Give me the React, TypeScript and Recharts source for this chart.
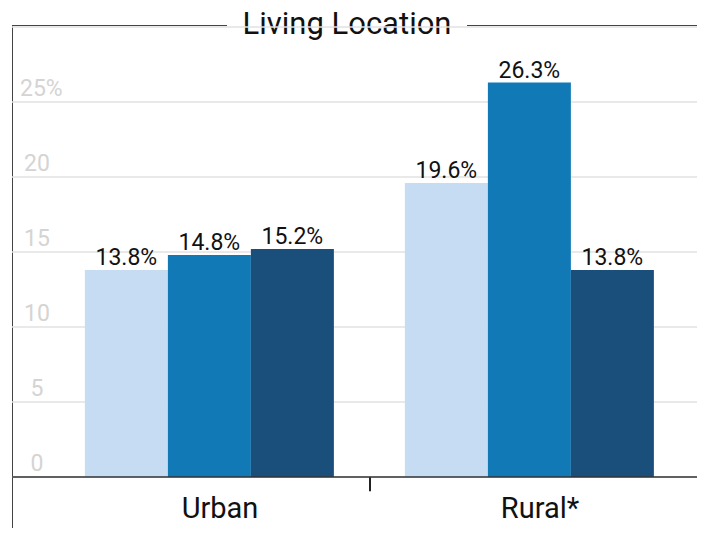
import React from 'react';
import {
  BarChart,
  Bar,
  XAxis,
  YAxis,
  CartesianGrid,
  LabelList,
  ReferenceLine
} from 'recharts';

const categories = ['Urban', 'Rural*'];
const seriesA = [13.8, 19.6];
const seriesB = [14.8, 26.3];
const seriesC = [15.2, 13.8];
const yTicks = [0, 5, 10, 15, 20, 25];

const colors = ['#c6dcf2', '#1079b6', '#1a4f7b'];

const data = categories.map((name, i) => ({
  name,
  a: seriesA[i],
  b: seriesB[i],
  c: seriesC[i]
}));

const YTick = ({ y, payload }: any) => {
  const top = payload.value === yTicks[yTicks.length - 1];
  return (
    <text x={top ? 20 : 37} y={y - 6} textAnchor={top ? 'start' : 'middle'} fontSize={23} fill="#d4d4d4">
      {top ? `${payload.value}%` : payload.value}
    </text>
  );
};

const XTick = ({ x, y, payload }: any) => (
  <text x={x + 10} y={y + 33} textAnchor="middle" fontSize={29} fill="#111">
    {payload.value}
  </text>
);

const pct = (v: number) => `${v}%`;

const App: React.FC = () => {
  return (
    <div
      style={{
        position: 'relative',
        width: 705,
        height: 536,
        margin: -8,
        overflow: 'hidden',
        fontFamily: 'Roboto, sans-serif',
        background: '#fff'
      }}
    >
      <div
        style={{
          position: 'absolute',
          left: 12,
          top: 25,
          width: 686,
          height: 600,
          border: '1.5px solid #444',
          boxSizing: 'border-box'
        }}
      />
      <div
        style={{
          position: 'absolute',
          left: 227,
          top: 6,
          width: 240,
          textAlign: 'center',
          background: '#fff',
          fontSize: 31,
          lineHeight: '36px',
          color: '#111'
        }}
      >
        Living Location
      </div>
      <div style={{ position: 'absolute', left: 0, top: 0 }}>
        <BarChart
          width={705}
          height={536}
          data={data}
          margin={{ top: 27, right: 8, left: 12, bottom: 0 }}
          barGap={0}
          barCategoryGap="10.9%"
          style={{ fontFamily: 'Roboto, sans-serif' }}
        >
          <CartesianGrid vertical={false} stroke="#e2e2e2" strokeWidth={1.5} />
          <XAxis
            dataKey="name"
            height={59}
            interval={0}
            padding={{ left: 38, right: 7 }}
            axisLine={{ stroke: '#333', strokeWidth: 1.5 }}
            tickLine={false}
            tick={<XTick />}
          />
          <YAxis
            mirror
            width={60}
            domain={[0, 30]}
            ticks={yTicks}
            axisLine={false}
            tickLine={false}
            tick={<YTick />}
          />
          <Bar dataKey="a" fill={colors[0]} isAnimationActive={false}>
            <LabelList dataKey="a" position="top" offset={5} formatter={pct} fontSize={23} fill="#111" />
          </Bar>
          <Bar dataKey="b" fill={colors[1]} isAnimationActive={false}>
            <LabelList dataKey="b" position="top" offset={5} formatter={pct} fontSize={23} fill="#111" />
          </Bar>
          <Bar dataKey="c" fill={colors[2]} isAnimationActive={false}>
            <LabelList dataKey="c" position="top" offset={5} formatter={pct} fontSize={23} fill="#111" />
          </Bar>
          <ReferenceLine
            segment={[
              { x: categories[1], y: 0 },
              { x: categories[1], y: -0.95 }
            ]}
            position="start"
            ifOverflow="visible"
            stroke="#222"
            strokeWidth={2}
          />
        </BarChart>
      </div>
    </div>
  );
};

export default App;
